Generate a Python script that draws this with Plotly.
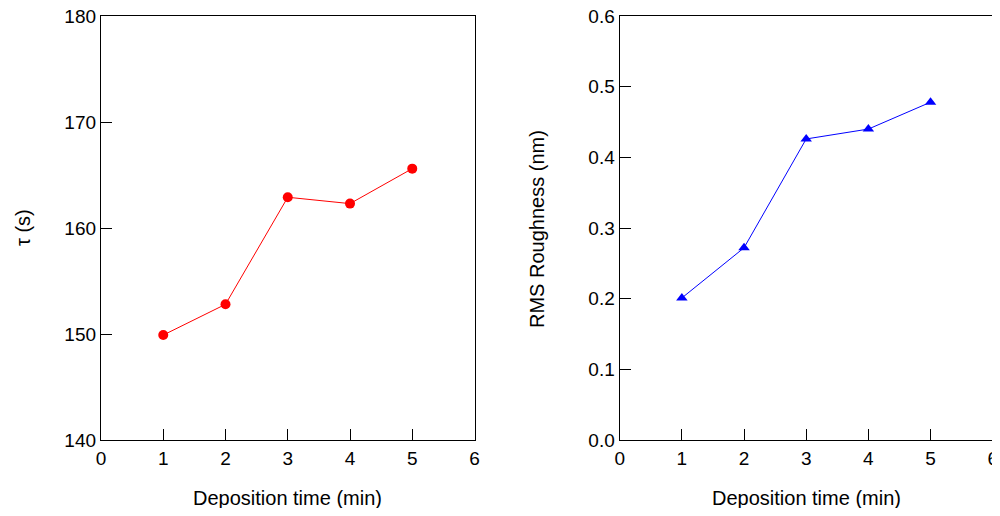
import plotly.graph_objects as go

dep_time = [1, 2, 3, 4, 5]
tau_s = [149.9, 152.8, 162.9, 162.3, 165.6]
rms_nm = [0.201, 0.272, 0.426, 0.440, 0.478]

x_ticks = [0, 1, 2, 3, 4, 5, 6]
tau_ticks = [140, 150, 160, 170, 180]
rms_ticks = [0.0, 0.1, 0.2, 0.3, 0.4, 0.5, 0.6]

FONT = "Liberation Sans, Arial, sans-serif"

# page body has an 8px margin; positions below are given in window pixels
W, H, OFF = 1000, 500, 8


def px_x(X):
    return (X - OFF) / W


def px_y(Y):
    return 1 - (Y - OFF) / H


fig = go.Figure()
fig.add_trace(go.Scatter(x=dep_time, y=tau_s, mode="lines+markers",
                         line=dict(color="#ff0000", width=1),
                         marker=dict(symbol="circle", size=10, color="#ff0000"),
                         xaxis="x", yaxis="y", showlegend=False))
fig.add_trace(go.Scatter(x=dep_time, y=rms_nm, mode="lines+markers",
                         line=dict(color="#0000ff", width=1),
                         marker=dict(symbol="triangle-up", size=10, color="#0000ff"),
                         xaxis="x2", yaxis="y2", showlegend=False))

ax_common = dict(showline=True, linecolor="black", linewidth=1.3, mirror=True,
                 ticks="inside", ticklen=11, tickwidth=1.3, tickcolor="black",
                 showgrid=False, zeroline=False, automargin=False,
                 ticklabeloverflow="allow",
                 tickfont=dict(family=FONT, size=19, color="black"))

ydom = [px_y(440), px_y(16)]
fig.update_layout(
    width=W, height=H,
    margin=dict(l=0, r=0, t=0, b=0),
    paper_bgcolor="white", plot_bgcolor="white",
    xaxis=dict(domain=[px_x(101), px_x(474.5)], range=[0, 6], tickvals=x_ticks,
               anchor="y", ticklabelstandoff=1, **ax_common),
    yaxis=dict(domain=ydom, range=[140, 180], tickvals=tau_ticks,
               anchor="x", ticklabelstandoff=0, **ax_common),
    xaxis2=dict(domain=[px_x(619.7), px_x(992.7)], range=[0, 6], tickvals=x_ticks,
                anchor="y2", ticklabelstandoff=1, **ax_common),
    yaxis2=dict(domain=ydom, range=[0, 0.6], tickvals=rms_ticks,
                tickformat=".1f", anchor="x2", ticklabelstandoff=0, **ax_common),
)

title_font = dict(family=FONT, size=20, color="black")
fig.add_annotation(text="Deposition time (min)", x=px_x(287.6), y=px_y(498),
                   xref="paper", yref="paper", showarrow=False, font=title_font,
                   xanchor="center", yanchor="middle")
fig.add_annotation(text="Deposition time (min)", x=px_x(806.2), y=px_y(498),
                   xref="paper", yref="paper", showarrow=False, font=title_font,
                   xanchor="center", yanchor="middle")
fig.add_annotation(text="τ (s)", x=px_x(23), y=px_y(228), textangle=-90,
                   xref="paper", yref="paper", showarrow=False, font=title_font,
                   xanchor="center", yanchor="middle")
fig.add_annotation(text="RMS Roughness (nm)", x=px_x(537), y=px_y(229), textangle=-90,
                   xref="paper", yref="paper", showarrow=False, font=title_font,
                   xanchor="center", yanchor="middle")

fig.write_html("out.html")
